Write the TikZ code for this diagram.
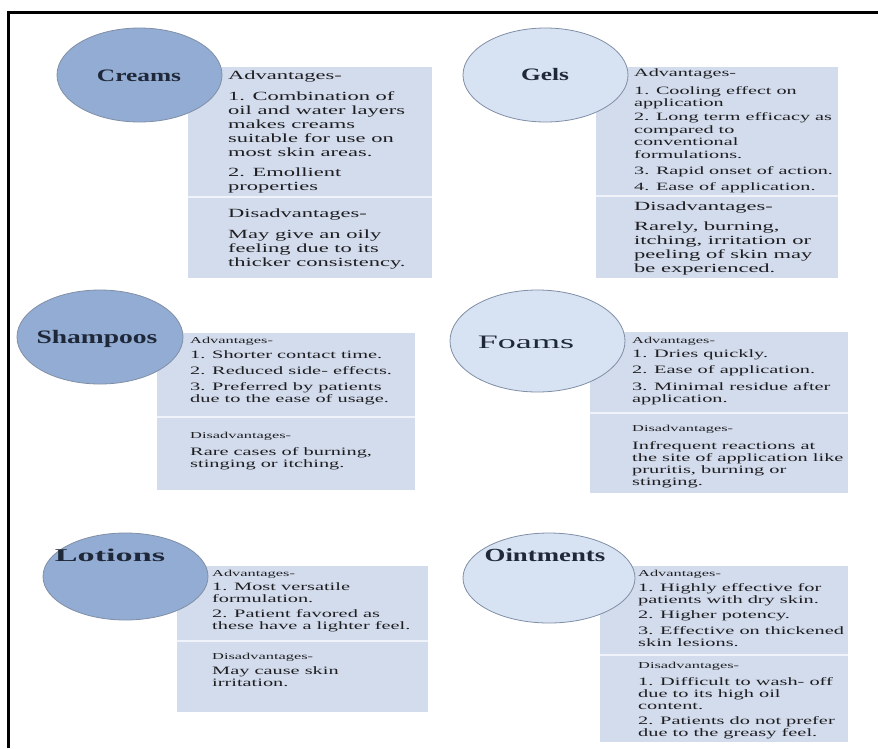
\documentclass[tikz,border=0pt]{standalone}
\usepackage{fontspec}
\setmainfont{Liberation Serif}
\newfontfamily\bodyfont[FakeStretch=1.8]{Liberation Serif}
\newfontfamily\labelfont[FakeStretch=1.45]{Liberation Serif}
\newfontfamily\widelabelfont[FakeStretch=1.9]{Liberation Serif}
\usetikzlibrary{shapes.geometric}
\definecolor{elldark}{RGB}{147,172,211}
\definecolor{elllight}{RGB}{215,226,242}
\definecolor{ellline}{RGB}{128,143,166}
\definecolor{boxfill}{RGB}{211,220,236}
\definecolor{divcol}{RGB}{240,243,249}
\definecolor{txt}{RGB}{30,30,34}
\definecolor{lbl}{RGB}{30,40,56}
\newcommand{\bigtxt}{\bodyfont\fontsize{12.5}{14}\selectfont\lineskiplimit=-50pt}
\newcommand{\midtxt}{\bodyfont\fontsize{11.2}{12.5}\selectfont\lineskiplimit=-50pt}
\newcommand{\smhead}{\bodyfont\fontsize{9.1}{10}\selectfont\lineskiplimit=-50pt}
\newcommand{\smtxt}{\bodyfont\fontsize{11.3}{12}\selectfont\lineskiplimit=-50pt}
\tikzset{
  darkell/.style={ellipse, draw=ellline, fill=elldark, line width=0.8pt, inner sep=0pt},
  lightell/.style={ellipse, draw=ellline, fill=elllight, line width=0.8pt, inner sep=0pt},
  panelbox/.style={fill=boxfill, draw=none, rectangle, anchor=north west, inner sep=0pt},
  divider/.style={draw=divcol, line width=1.6pt},
  sec/.style={anchor=north west, inner sep=0pt, align=left, text=txt},
  ellabel/.style={anchor=base, inner sep=0pt, text=lbl, font=\labelfont\bfseries\fontsize{17.5}{18}\selectfont},
  frame/.style={line width=3pt, draw=black}
}
\begin{document}
\begin{tikzpicture}[x=1pt, y=-1pt]
\useasboundingbox (0,0) rectangle (878,748);
\fill[white] (0,0) rectangle (878,748);
% frame
\coordinate (fbl) at (8,748);
\coordinate (ftl) at (8,12);
\coordinate (ftr) at (878,12);
\draw[frame] (fbl) -- (ftl) -- (ftr);

% boxes
\node[panelbox, minimum width=244pt, minimum height=211pt] (creamsbox) at (188,67) {};
\node[panelbox, minimum width=242pt, minimum height=211pt] (gelsbox) at (596,67) {};
\node[panelbox, minimum width=258pt, minimum height=157pt] (shampbox) at (157,333) {};
\node[panelbox, minimum width=258pt, minimum height=161pt] (foamsbox) at (590,332) {};
\node[panelbox, minimum width=251pt, minimum height=146pt] (lotbox) at (177,566) {};
\node[panelbox, minimum width=248pt, minimum height=176pt] (ointbox) at (600,566) {};

% dividers
\draw[divider] (188,197) -- (432,197);
\draw[divider] (596,196) -- (838,196);
\draw[divider] (157,417) -- (415,417);
\draw[divider] (590,413) -- (848,413);
\draw[divider] (177,641) -- (428,641);
\draw[divider] (600,655) -- (848,655);

% ellipses
\node[darkell, minimum width=165pt, minimum height=94pt] (creamsE) at (139.5,75) {};
\node[lightell, minimum width=165pt, minimum height=94pt] (gelsE) at (545.5,75) {};
\node[darkell, minimum width=166pt, minimum height=94pt] (shampE) at (100,337) {};
\node[lightell, minimum width=175pt, minimum height=102pt] (foamsE) at (537.5,341) {};
\node[darkell, minimum width=165pt, minimum height=87pt] (lotE) at (125.5,576.5) {};
\node[lightell, minimum width=172pt, minimum height=90pt] (ointE) at (549,578) {};

% ellipse labels
\node[ellabel] (creamsL) at (139,81.8) {Creams};
\node[ellabel] (gelsL) at (545,80.8) {Gels};
\node[ellabel, font=\labelfont\bfseries\fontsize{19}{20}\selectfont] (shampL) at (97,343.3) {Shampoos};
\node[ellabel, font=\widelabelfont\fontsize{19}{20}\selectfont] (foamsL) at (526,348.3) {Foams};
\node[ellabel, font=\widelabelfont\bfseries\fontsize{18}{19}\selectfont] (lotL) at (110,561) {Lotions};
\node[ellabel, font=\labelfont\bfseries\fontsize{18.5}{19}\selectfont] (ointL) at (545,561.1) {Ointments};

% Creams
\node[sec, font=\bigtxt] (creamsAh) at (228,70.4) {Advantages-};
\node[sec, font=\bigtxt] (creamsA) at (228,91.4) {1. Combination of\\oil and water layers\\makes creams\\suitable for use on\\most skin areas.\\[6pt]2. Emollient\\properties};
\node[sec, font=\bigtxt] (creamsDh) at (228,208.4) {Disadvantages-};
\node[sec, font=\bigtxt] (creamsD) at (228,229.4) {May give an oily\\feeling due to its\\thicker consistency.};

% Gels
\node[sec, font=\midtxt] (gelsAh) at (634,69) {Advantages-};
\node[sec, font=\midtxt] (gelsA) at (634,86) {1. Cooling effect on\\application\\[1.5pt]2. Long term efficacy as\\compared to\\conventional\\formulations.\\[4pt]3. Rapid onset of action.\\[3.5pt]4. Ease of application.};
\node[sec, font=\bigtxt] (gelsDh) at (634,201.4) {Disadvantages-};
\node[sec, font=\bigtxt] (gelsD) at (634,221.4) {Rarely, burning,\\itching, irritation or\\peeling of skin may\\be experienced.};

% Shampoos
\node[sec, font=\smhead] (shampAh) at (190,336.9) {Advantages-};
\node[sec, font=\smtxt] (shampA) at (190,350.9) {1. Shorter contact time.\\[4pt]2. Reduced side- effects.\\[4pt]3. Preferred by patients\\due to the ease of usage.};
\node[sec, font=\smhead] (shampDh) at (190,431.9) {Disadvantages-};
\node[sec, font=\smtxt] (shampD) at (190,446.9) {Rare cases of burning,\\stinging or itching.};

% Foams
\node[sec, font=\smhead] (foamsAh) at (632,336.9) {Advantages-};
\node[sec, font=\smtxt] (foamsA) at (632,349.9) {1. Dries quickly.\\[4pt]2. Ease of application.\\[5pt]3. Minimal residue after\\application.};
\node[sec, font=\smhead] (foamsDh) at (632,425.4) {Disadvantages-};
\node[sec, font=\smtxt] (foamsD) at (632,440.9) {Infrequent reactions at\\the site of application like\\pruritis, burning or\\stinging.};

% Lotions
\node[sec, font=\smhead] (lotAh) at (212,569.9) {Advantages-};
\node[sec, font=\smtxt] (lotA) at (212,582.9) {1. Most versatile\\formulation.\\[3pt]2. Patient favored as\\these have a lighter feel.};
\node[sec, font=\smhead] (lotDh) at (212,653.4) {Disadvantages-};
\node[sec, font=\smtxt] (lotD) at (212,666.9) {May cause skin\\irritation.};

% Ointments
\node[sec, font=\smhead] (ointAh) at (638,569.9) {Advantages-};
\node[sec, font=\smtxt] (ointA) at (638,583.4) {1. Highly effective for\\patients with dry skin.\\[3pt]2. Higher potency.\\[4pt]3. Effective on thickened\\skin lesions.};
\node[sec, font=\smhead] (ointDh) at (638,662.4) {Disadvantages-};
\node[sec, font=\smtxt] (ointD) at (638,676.9) {1. Difficult to wash- off\\due to its high oil\\content.\\[3pt]2. Patients do not prefer\\due to the greasy feel.};
\end{tikzpicture}
\end{document}
